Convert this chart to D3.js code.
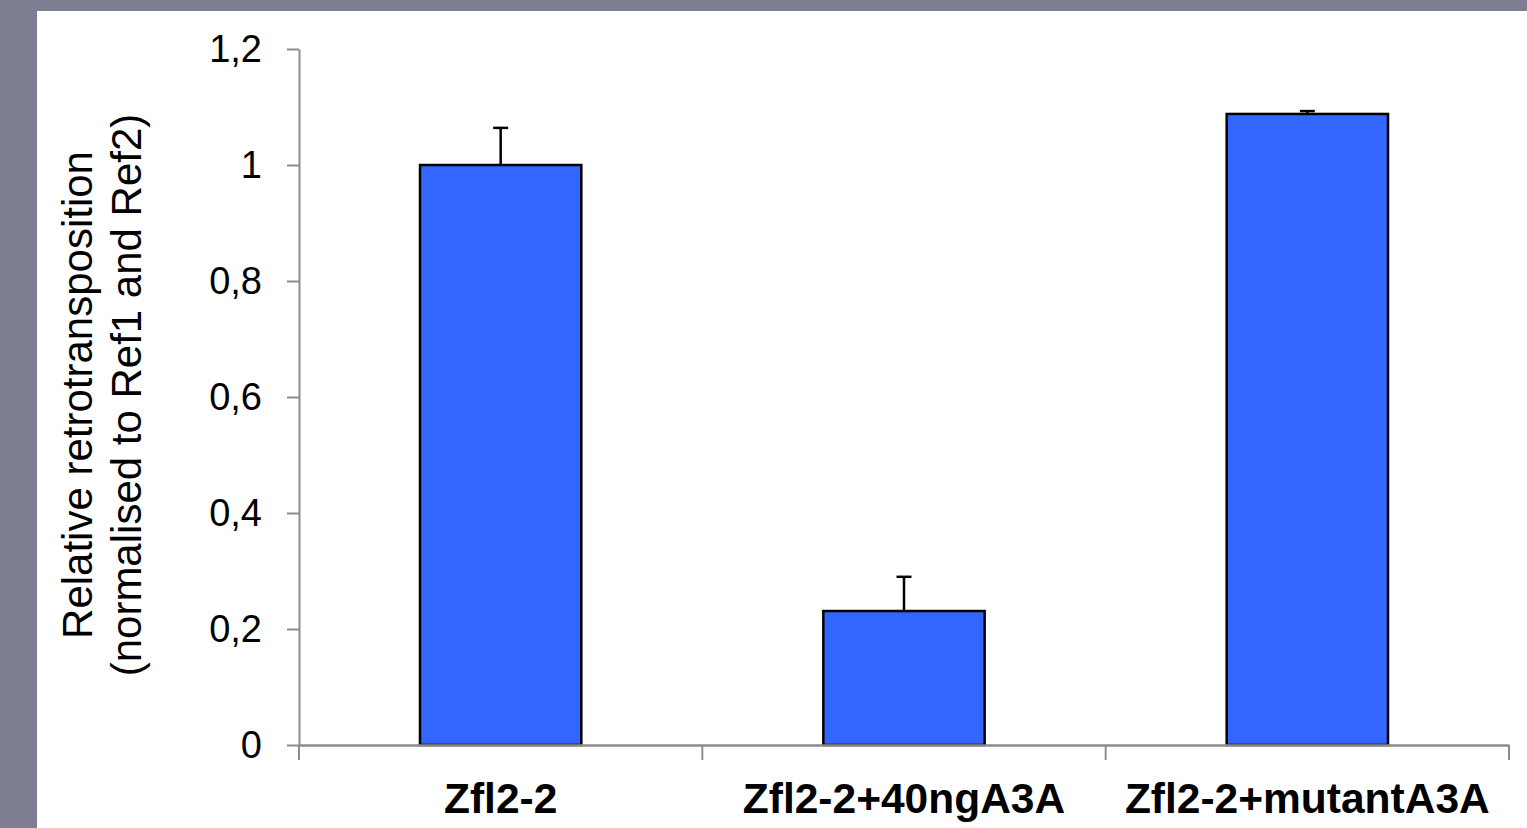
<!DOCTYPE html>
<html>
<head>
<meta charset="utf-8">
<script src="https://cdn.jsdelivr.net/npm/d3@7.9.0/dist/d3.min.js"></script>
<style>
  html, body { margin: 0; padding: 0; background: #7e7e92; }
  svg { display: block; }
  text { font-family: "Liberation Sans", Arial, sans-serif; fill: #000; }
</style>
</head>
<body>
<svg id="chart" width="1527" height="828"></svg>
<script>
// Chart data
const categories = ["Zfl2-2", "Zfl2-2+40ngA3A", "Zfl2-2+mutantA3A"];
const values = [1.0, 0.231, 1.088];
const errors = [0.064, 0.059, 0.005];
const yTicks = [0, 0.2, 0.4, 0.6, 0.8, 1, 1.2];
const yLabelLines = ["Relative retrotransposition", "(normalised to Ref1 and Ref2)"];

const svg = d3.select("#chart");

// Slide background and white panel
svg.append("rect").attr("width", 1527).attr("height", 828).attr("fill", "#7e7e92");
svg.append("rect").attr("x", 37).attr("y", 11).attr("width", 1490).attr("height", 817).attr("fill", "#fff");

// Scales
const x = d3.scaleBand().domain(categories).range([299, 1509]);
const y = d3.scaleLinear().domain([0, 1.2]).range([745, 49]);
const barW = x.bandwidth() * 0.4;
const axisColor = "#8c8c8c";

// Y axis
const fmt = d => d3.format("~g")(d).replace(".", ",");
const yAxis = svg.append("g")
  .attr("transform", "translate(299,0)")
  .call(d3.axisLeft(y).tickValues(yTicks).tickFormat(fmt).tickSize(12).tickSizeOuter(0).tickPadding(25));
yAxis.select(".domain").attr("stroke", axisColor).attr("stroke-width", 2);
yAxis.selectAll(".tick line").attr("stroke", axisColor).attr("stroke-width", 2);
yAxis.selectAll(".tick text").attr("font-size", 38).attr("font-family", "Liberation Sans, Arial, sans-serif").attr("fill", "#000");

// Bars
svg.append("g").selectAll("rect")
  .data(categories)
  .join("rect")
  .attr("x", d => x(d) + (x.bandwidth() - barW) / 2)
  .attr("y", (d, i) => y(values[i]))
  .attr("width", barW)
  .attr("height", (d, i) => y(0) - y(values[i]))
  .attr("fill", "#3366ff")
  .attr("stroke", "#000")
  .attr("stroke-width", 2.5);

// Error bars (upper only)
const err = svg.append("g").attr("stroke", "#000").attr("stroke-width", 2.5);
categories.forEach((c, i) => {
  const cx = x(c) + x.bandwidth() / 2;
  err.append("line").attr("x1", cx).attr("x2", cx).attr("y1", y(values[i])).attr("y2", y(values[i] + errors[i]));
  err.append("line").attr("x1", cx - 7.5).attr("x2", cx + 7.5).attr("y1", y(values[i] + errors[i])).attr("y2", y(values[i] + errors[i]));
});

// X axis
const xAxis = svg.append("g")
  .attr("transform", "translate(0,745)")
  .call(d3.axisBottom(x).tickSize(0).tickSizeOuter(0).tickPadding(38));
xAxis.select(".domain").attr("stroke", axisColor).attr("stroke-width", 2.5);
xAxis.selectAll(".tick text").attr("font-size", 42.5).attr("font-weight", "bold")
  .attr("font-family", "Liberation Sans, Arial, sans-serif").attr("fill", "#000");

// Category separator ticks
const bounds = categories.map(c => x(c)).concat([x.range()[1]]);
svg.append("g").selectAll("line")
  .data(bounds)
  .join("line")
  .attr("x1", d => d).attr("x2", d => d)
  .attr("y1", 745).attr("y2", 760)
  .attr("stroke", axisColor).attr("stroke-width", 2);

// Y axis title
const title = svg.append("text")
  .attr("transform", "translate(92,395) rotate(-90)")
  .attr("text-anchor", "middle")
  .attr("font-size", 42);
yLabelLines.forEach((t, i) => {
  title.append("tspan").attr("x", 0).attr("dy", i === 0 ? 0 : 49).text(t);
});
</script>
</body>
</html>
